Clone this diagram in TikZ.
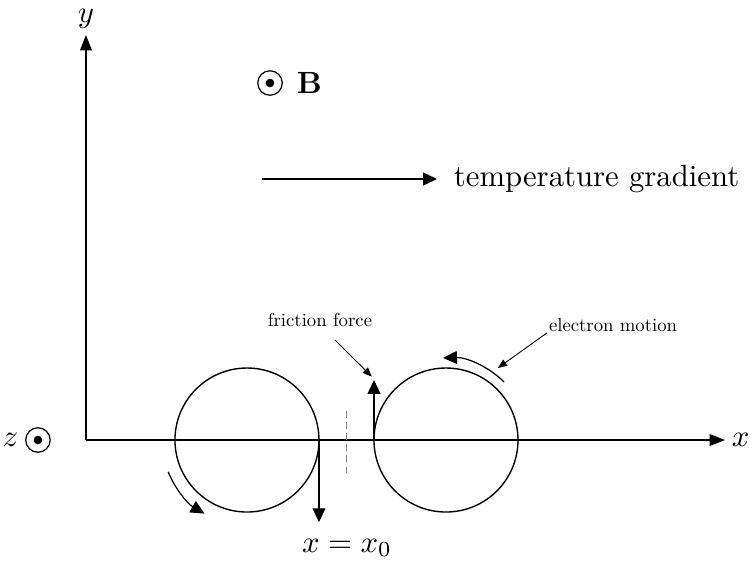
\documentclass[tikz,border=0pt]{standalone}
\usepackage{amsmath}
\usepackage{tikz}
\usetikzlibrary{arrows.meta, positioning, calc}
\tikzset{
  axis/.style={-{Triangle[length=5pt,width=3.8pt]}},
  bigarrow/.style={-{Triangle[length=4.5pt,width=4.2pt]}},
  pointer/.style={-{Triangle[length=3pt,width=2.4pt]}, line width=0.3pt},
  grain/.style={line width=0.45pt},
  smalllabel/.style={scale=0.61},
  gapline/.style={gray, line width=0.5pt, dash pattern=on 2.2pt off 1.4pt},
  dotsym/.style={circle, draw, minimum size=0.34cm*0.824, inner sep=0pt}
}

\begin{document}
\begin{tikzpicture}[x=0.824cm, y=0.824cm]
  \useasboundingbox (-1.194,-1.736) rectangle (9.264,6.111);

  % Axes
  \coordinate (O) at (0,0);
  \coordinate (xend) at (8.875,0);
  \coordinate (yend) at (0,5.625);
  \draw[axis] (O) -- (xend) node[right, inner sep=2pt] {$x$};
  \draw[axis] (O) -- (yend) node[above, inner sep=2pt] {$y$};

  % z out of page
  \node[dotsym] (zdot) at (-0.667,0) {};
  \fill (zdot.center) circle (0.06);
  \node[left=1pt of zdot, inner sep=1pt] (zlab) {$z$};

  % Magnetic field out of page
  \node[dotsym] (bdot) at (2.556,4.958) {};
  \fill (bdot.center) circle (0.06);
  \node[right=1pt of bdot] (blab) {$\mathbf{B}$};

  % Temperature gradient
  \coordinate (tstart) at (2.444,3.625);
  \coordinate (tend) at (4.875,3.625);
  \draw[bigarrow] (tstart) -- (tend);
  \node[right=2pt of tend] (tlab) {temperature gradient};

  % Two grains
  \coordinate (cl) at (2.236,0);
  \coordinate (cr) at (5,0);
  \draw[grain] (cl) circle (1);
  \draw[grain] (cr) circle (1);

  % Gap between the grains
  \draw[gapline] (3.618,0.4) -- (3.618,-0.49);

  % Friction forces
  \coordinate (fdown) at (3.236,0);
  \coordinate (fup) at (4,0);
  \draw[bigarrow] (fdown) -- ++(0,-1.14) coordinate (fdownend);
  \draw[bigarrow] (fup) -- ++(0,0.833) coordinate (fupend);
  \node (x0lab) at (3.625,-1.5) {$x=x_0$};

  % Electron motion on both grains
  \draw[bigarrow] ($(cr)+(45:1.14)$) arc (45:92:1.14) coordinate (eend);
  \draw[bigarrow] ($(cl)+(202:1.18)$) arc (202:240:1.18) coordinate (lend);

  % Labels with pointers
  \node[smalllabel] (flab) at (3.25,1.66) {friction force};
  \coordinate (fptr) at (3.97,0.88);
  \draw[pointer] (3.458,1.389) -- (fptr);
  \node[smalllabel] (elab) at (7.32,1.6) {electron motion};
  \coordinate (eptr) at (5.72,1.0);
  \draw[pointer] (6.40,1.486) -- (eptr);
\end{tikzpicture}
\end{document}
